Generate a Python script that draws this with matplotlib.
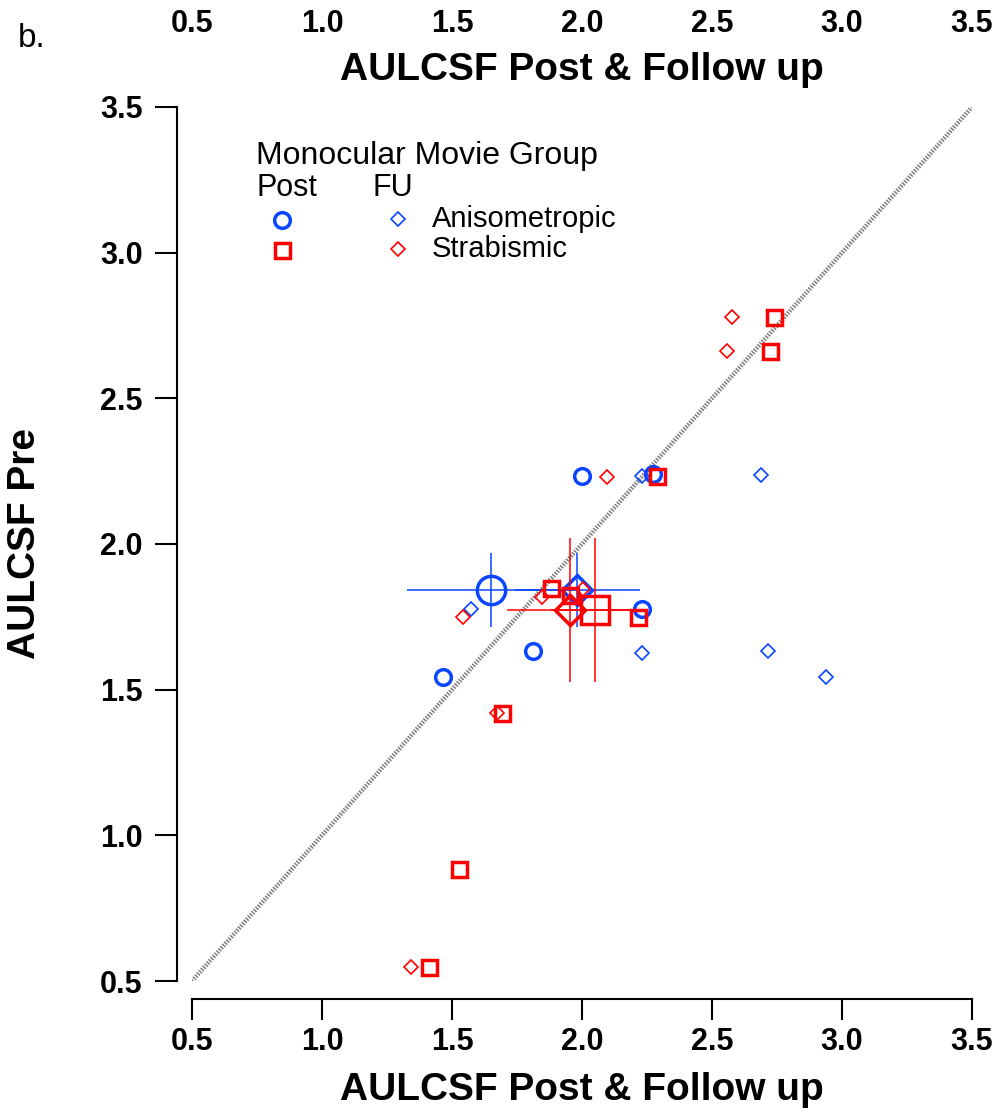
import numpy as np
import matplotlib.pyplot as plt
from matplotlib.ticker import FormatStrFormatter

plt.rcParams['font.family'] = ['Liberation Sans', 'DejaVu Sans']

blue = '#0a46ff'
red = '#ff0000'

# individual subjects: x = AULCSF post / follow up, y = AULCSF pre
aniso_post_x = [1.999, 2.274, 2.229, 1.813, 1.464]
aniso_post_y = [2.233, 2.239, 1.776, 1.634, 1.545]
aniso_fu_x = [2.229, 2.690, 1.573, 2.229, 2.714, 2.937]
aniso_fu_y = [2.233, 2.238, 1.777, 1.625, 1.634, 1.542]
strab_post_x = [2.287, 2.740, 2.723, 1.881, 1.954, 2.217, 1.694, 1.528, 1.413]
strab_post_y = [2.233, 2.780, 2.664, 1.848, 1.825, 1.748, 1.419, 0.883, 0.549]
strab_fu_x = [2.095, 2.578, 2.559, 1.845, 2.005, 1.544, 1.672, 1.342]
strab_fu_y = [2.231, 2.778, 2.664, 1.819, 1.844, 1.748, 1.419, 0.549]

# group means (x, y, xerr, yerr)
aniso_post_mean = (1.650, 1.841, 0.324, 0.127)
aniso_fu_mean = (1.982, 1.841, 0.241, 0.127)
strab_post_mean = (2.050, 1.773, 0.170, 0.248)
strab_fu_mean = (1.954, 1.773, 0.241, 0.248)

ticks = [0.5, 1.0, 1.5, 2.0, 2.5, 3.0, 3.5]
diag = [0.5, 3.5]

fig = plt.figure(figsize=(9.98, 11.2), dpi=100)
ax = fig.add_axes([0.1924, 0.1241, 0.7816, 0.7804])

# unity line
ax.plot(diag, diag, color='#7a7a7a', lw=3.2, dashes=(0.33, 0.33),
        solid_capstyle='butt', dash_capstyle='butt', zorder=1)

# subjects
ax.plot(aniso_post_x, aniso_post_y, 'o', ms=11.3, mfc='none', mec=blue, mew=2.5, zorder=3)
ax.plot(aniso_fu_x, aniso_fu_y, 'D', ms=7.4, mfc='none', mec=blue, mew=1.2, zorder=3)

m = aniso_post_mean
ax.errorbar(m[0], m[1], xerr=m[2], yerr=m[3], fmt='o', ms=20.4, mfc='none', mec=blue,
            mew=2.5, ecolor=blue, elinewidth=1.1, capsize=0, zorder=3)
m = aniso_fu_mean
ax.errorbar(m[0], m[1], xerr=m[2], yerr=m[3], fmt='D', ms=15, mfc='none', mec=blue,
            mew=2.5, ecolor=blue, elinewidth=1.1, capsize=0, zorder=3)

ax.plot(strab_post_x, strab_post_y, 's', ms=10.8, mfc='none', mec=red, mew=2.5, zorder=4)
ax.plot(strab_fu_x, strab_fu_y, 'D', ms=7.4, mfc='none', mec=red, mew=1.2, zorder=4)

m = strab_post_mean
ax.errorbar(m[0], m[1], xerr=m[2], yerr=m[3], fmt='s', ms=19.7, mfc='none', mec=red,
            mew=2.5, ecolor=red, elinewidth=1.1, capsize=0, zorder=4)
m = strab_fu_mean
ax.errorbar(m[0], m[1], xerr=m[2], yerr=m[3], fmt='D', ms=15, mfc='none', mec=red,
            mew=2.5, ecolor=red, elinewidth=1.1, capsize=0, zorder=4)

ax.set_xlim(0.5, 3.5)
ax.set_ylim(0.5, 3.5)
ax.set_xticks(ticks)
ax.set_yticks(ticks)
ax.xaxis.set_major_formatter(FormatStrFormatter('%.1f'))
ax.yaxis.set_major_formatter(FormatStrFormatter('%.1f'))

for s in ['top', 'right']:
    ax.spines[s].set_visible(False)
ax.spines['left'].set_position(('outward', 10.8))
ax.spines['bottom'].set_position(('outward', 13))
ax.spines['left'].set_linewidth(1.5)
ax.spines['bottom'].set_linewidth(1.5)
ax.tick_params(axis='x', length=15, width=1.5, pad=5, labelsize=22)
ax.tick_params(axis='y', length=16, width=1.5, pad=8.6, labelsize=22)
for lab in ax.get_xticklabels() + ax.get_yticklabels():
    lab.set_fontweight('bold')

ax.set_xlabel('AULCSF Post & Follow up', fontsize=28, fontweight='bold')
ax.xaxis.set_label_coords(0.5, -0.1247)
ax.xaxis.label.set_va('center')
ax.set_ylabel('AULCSF Pre', fontsize=28, fontweight='bold')
ax.yaxis.set_label_coords(-0.214, 0.5)
ax.yaxis.label.set_va('center')

# top axis: labels only
sec = ax.secondary_xaxis('top')
sec.spines['top'].set_visible(False)
sec.set_xticks(ticks)
sec.xaxis.set_major_formatter(FormatStrFormatter('%.1f'))
sec.tick_params(axis='x', length=0, pad=49, labelsize=22)
for lab in sec.get_xticklabels():
    lab.set_fontweight('bold')
sec.set_xlabel('AULCSF Post & Follow up', fontsize=28, fontweight='bold')
sec.xaxis.set_label_coords(0.5, 1.042, transform=ax.transAxes)
sec.xaxis.label.set_va('center')

# legend
ta = ax.transAxes
ax.text(0.0821, 0.944, 'Monocular Movie Group', transform=ta, fontsize=23, va='center')
ax.text(0.0821, 0.907, 'Post', transform=ta, fontsize=22, va='center')
ax.text(0.2308, 0.907, 'FU', transform=ta, fontsize=22, va='center')
ax.plot([0.1154], [0.8707], 'o', transform=ta, ms=11.3, mfc='none', mec=blue, mew=2.5, clip_on=False)
ax.plot([0.2641], [0.8718], 'D', transform=ta, ms=7.4, mfc='none', mec=blue, mew=1.2, clip_on=False)
ax.text(0.3077, 0.8718, 'Anisometropic', transform=ta, fontsize=21, va='center')
ax.plot([0.1154], [0.8364], 's', transform=ta, ms=10.8, mfc='none', mec=red, mew=2.5, clip_on=False)
ax.plot([0.2641], [0.8375], 'D', transform=ta, ms=7.4, mfc='none', mec=red, mew=1.2, clip_on=False)
ax.text(0.3077, 0.8375, 'Strabismic', transform=ta, fontsize=21, va='center')

fig.text(0.018, 0.966, 'b.', fontsize=24, va='center')

fig.savefig('out.png', dpi=100)
